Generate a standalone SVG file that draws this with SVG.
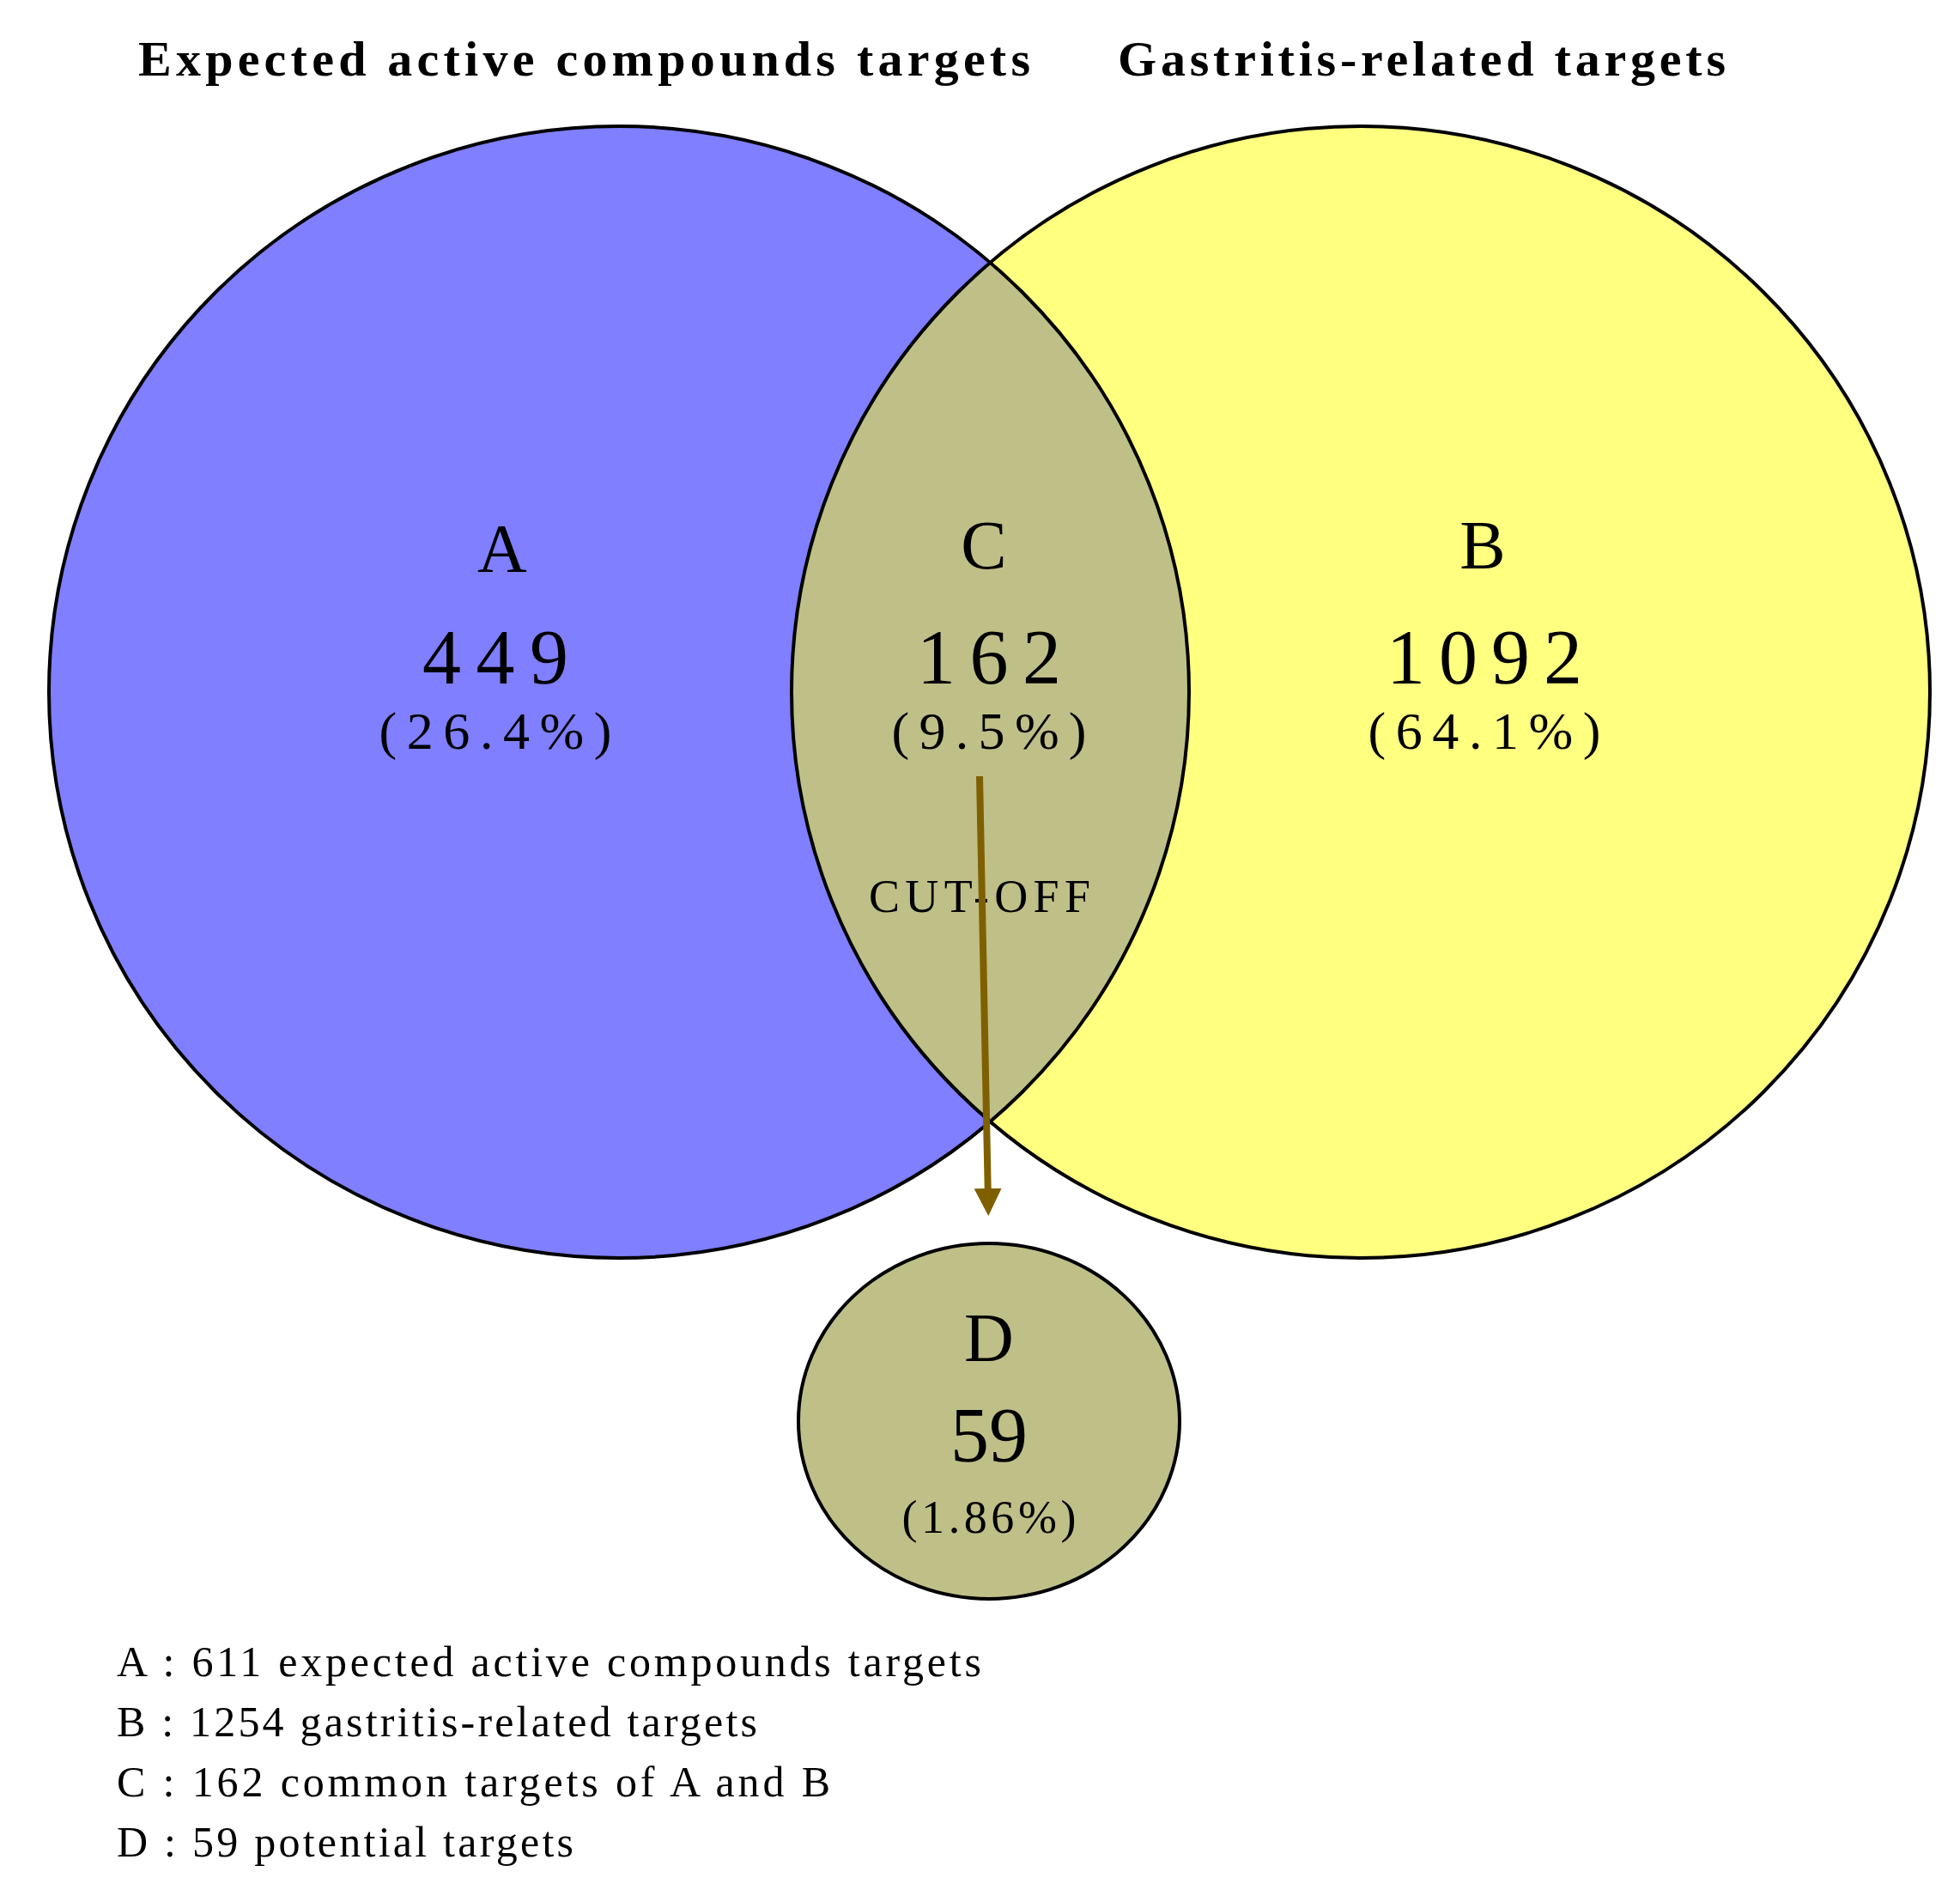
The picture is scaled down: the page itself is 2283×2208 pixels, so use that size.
<svg xmlns="http://www.w3.org/2000/svg" width="2283" height="2208" viewBox="0 0 2283 2208">
<style>
.t{font-family:"Liberation Serif",serif;fill:#000}
.b{font-weight:bold;font-size:58px}
.c{stroke:#000;stroke-width:4}
</style>
<defs>
<clipPath id="clipA"><ellipse cx="721" cy="806" rx="664" ry="659"/></clipPath>
<marker id="ah" markerWidth="4" markerHeight="4" refX="2" refY="2" orient="auto" markerUnits="strokeWidth"><path d="M0,0 L4,2 L0,4 Z" fill="#7f6000"/></marker>
</defs>
<rect width="2283" height="2208" fill="#fff"/>
<text class="t b" x="161" y="88" textLength="1039" lengthAdjust="spacing">Expected active compounds targets</text>
<text class="t b" x="1302" y="88" textLength="708" lengthAdjust="spacing">Gastritis-related targets</text>
<g id="nodeA"><ellipse cx="721" cy="806" rx="664" ry="659" fill="#7f7fff"/></g>
<g id="nodeB"><ellipse cx="1585" cy="806" rx="663" ry="659" fill="#ffff80"/></g>
<g id="nodeC"><ellipse cx="1585" cy="806" rx="663" ry="659" fill="#bfbf88" clip-path="url(#clipA)"/></g>
<ellipse cx="721" cy="806" rx="664" ry="659" fill="none" class="c"/>
<ellipse cx="1585" cy="806" rx="663" ry="659" fill="none" class="c"/>
<g font-family="Liberation Serif,serif" text-anchor="middle">
<text x="585" y="666" font-size="80">A</text>
<text x="577" y="796" font-size="90" textLength="170" lengthAdjust="spacing">449</text>
<text x="577" y="872" font-size="62" textLength="271" lengthAdjust="spacing">(26.4%)</text>
<text x="1146" y="662" font-size="80">C</text>
<text x="1152" y="796" font-size="90" textLength="168" lengthAdjust="spacing">162</text>
<text x="1152" y="872" font-size="62" textLength="227" lengthAdjust="spacing">(9.5%)</text>
<text x="1727" y="662" font-size="80">B</text>
<text x="1729" y="796" font-size="90" textLength="228" lengthAdjust="spacing">1092</text>
<text x="1729" y="872" font-size="62" textLength="271" lengthAdjust="spacing">(64.1%)</text>
<text x="1141" y="1062" font-size="54" textLength="258" lengthAdjust="spacing">CUT-OFF</text>
</g>
<g id="connectors"><line x1="1141" y1="904" x2="1151" y2="1400" stroke="#7f6000" stroke-width="8" marker-end="url(#ah)"/></g>
<g id="nodeD">
<ellipse cx="1152" cy="1655" rx="222" ry="207" fill="#bfbf88" class="c"/>
<g font-family="Liberation Serif,serif" text-anchor="middle">
<text x="1152" y="1585" font-size="80">D</text>
<text x="1152" y="1702" font-size="90">59</text>
<text x="1152" y="1785" font-size="54" textLength="203" lengthAdjust="spacing">(1.86%)</text>
</g>
</g>
<g font-family="Liberation Serif,serif" font-size="50">
<text x="136" y="1952" textLength="1007" lengthAdjust="spacing">A : 611 expected active compounds targets</text>
<text x="136" y="2022" textLength="746" lengthAdjust="spacing">B : 1254 gastritis-related targets</text>
<text x="136" y="2092" textLength="831" lengthAdjust="spacing">C : 162 common targets of A and B</text>
<text x="136" y="2162" textLength="532" lengthAdjust="spacing">D : 59 potential targets</text>
</g>
</svg>
